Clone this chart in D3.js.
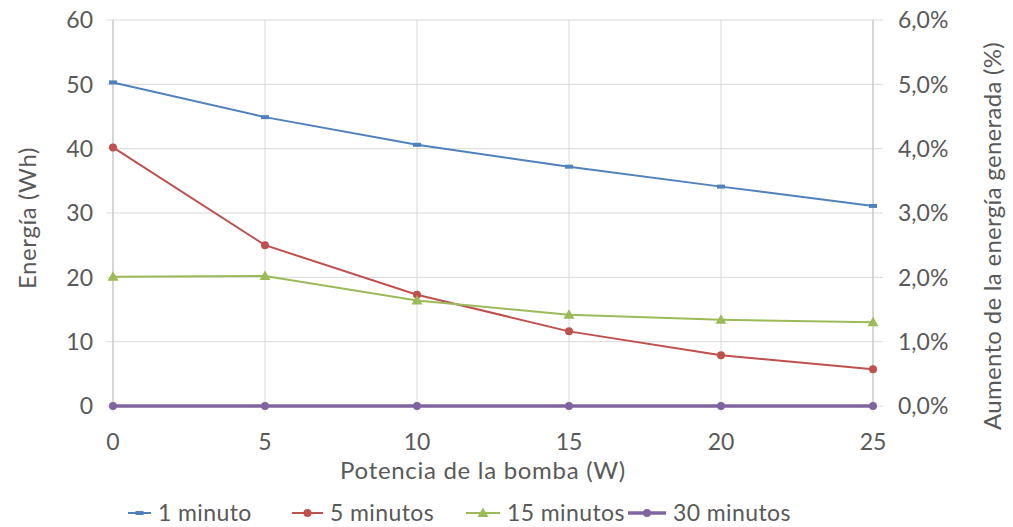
<!DOCTYPE html>
<html><head><meta charset="utf-8">
<script src="https://cdn.jsdelivr.net/npm/d3@7"></script>
<style>body{margin:0;background:#fff}svg{display:block}text{font-family:Lato,"Open Sans",sans-serif;fill:#595959}</style>
</head><body><svg id="c" width="1013" height="527"></svg>
<script>
const potencias = [0, 5, 10, 15, 20, 25];
const serie1min = [50.3, 44.9, 40.6, 37.2, 34.1, 31.1];
const serie5min = [40.2, 25.0, 17.3, 11.6, 7.9, 5.7];
const serie15min = [20.1, 20.2, 16.4, 14.2, 13.4, 13.0];
const serie30min = [0, 0, 0, 0, 0, 0];
const yTicks = [0, 10, 20, 30, 40, 50, 60];
const y2Ticks = ["0,0%", "1,0%", "2,0%", "3,0%", "4,0%", "5,0%", "6,0%"];
const seriesNames = ["1 minuto", "5 minutos", "15 minutos", "30 minutos"];

const svg = d3.select("#c");
const x = d3.scaleLinear().domain([0, 25]).range([113, 873]);
const y = d3.scaleLinear().domain([0, 60]).range([406, 20]);
const y2 = d3.scaleLinear().domain([0, 6]).range([406, 20]);

const series = [
  {name: seriesNames[0], vals: serie1min, color: "#4F81BD", marker: "dash", w: 2},
  {name: seriesNames[1], vals: serie5min, color: "#C0504D", marker: "circle", w: 2},
  {name: seriesNames[2], vals: serie15min, color: "#9BBB59", marker: "tri", w: 2},
  {name: seriesNames[3], vals: serie30min, color: "#8064A2", marker: "circle", w: 3.5}
];

const g = svg.append("g");
g.selectAll(".hg").data(yTicks).enter().append("line")
  .attr("x1", 107).attr("x2", 883).attr("y1", d => y(d)).attr("y2", d => y(d))
  .attr("stroke", "#d9d9d9").attr("stroke-width", 1);
g.selectAll(".vg").data(potencias).enter().append("line")
  .attr("x1", d => x(d)).attr("x2", d => x(d)).attr("y1", 20).attr("y2", 412)
  .attr("stroke", "#d9d9d9").attr("stroke-width", 1);
g.append("line").attr("x1", 113).attr("x2", 113).attr("y1", 20).attr("y2", 406).attr("stroke", "#bfbfbf");
g.append("line").attr("x1", 873).attr("x2", 873).attr("y1", 20).attr("y2", 406).attr("stroke", "#bfbfbf");

svg.selectAll(".yl").data(yTicks).enter().append("text")
  .attr("x", 93).attr("y", d => y(d)).attr("dy", "0.36em").attr("text-anchor", "end")
  .attr("font-size", 23).text(d => d);
svg.selectAll(".y2l").data(y2Ticks).enter().append("text")
  .attr("x", 898).attr("y", (d, i) => y2(i)).attr("dy", "0.36em").attr("text-anchor", "start")
  .attr("font-size", 23).text(d => d);
svg.selectAll(".xl").data(potencias).enter().append("text")
  .attr("x", d => x(d)).attr("y", 442).attr("dy", "0.36em").attr("text-anchor", "middle")
  .attr("font-size", 23).text(d => d);

svg.append("text").attr("transform", "translate(36,218) rotate(-90)").attr("text-anchor", "middle")
  .attr("font-size", 24).attr("letter-spacing", 0.6).text("Energía (Wh)");
svg.append("text").attr("transform", "translate(1001,236) rotate(-90)").attr("text-anchor", "middle")
  .attr("font-size", 24).attr("letter-spacing", 0.3).text("Aumento de la energía generada (%)");
svg.append("text").attr("x", 483).attr("y", 479).attr("text-anchor", "middle")
  .attr("font-size", 24).attr("letter-spacing", 0.7).text("Potencia de la bomba (W)");

function drawMarker(sel, type, color, cx, cy) {
  if (type === "dash") sel.append("rect").attr("x", cx - 4).attr("y", cy - 2).attr("width", 8).attr("height", 4).attr("fill", color);
  else if (type === "circle") sel.append("circle").attr("cx", cx).attr("cy", cy).attr("r", 4).attr("fill", color);
  else if (type === "tri") sel.append("path").attr("d", `M${cx},${cy-5.5}L${cx+5.5},${cy+4}L${cx-5.5},${cy+4}Z`).attr("fill", color);
}

const line = d3.line().x((d, i) => x(potencias[i])).y(d => y(d));
series.forEach(s => {
  const sg = svg.append("g");
  sg.append("path").attr("d", line(s.vals)).attr("fill", "none").attr("stroke", s.color).attr("stroke-width", s.w);
  s.vals.forEach((v, i) => drawMarker(sg, s.marker, s.color, x(potencias[i]), y(v)));
});

const legX = [128, 292, 466, 628];
const legW = [23, 31, 34, 38];
series.forEach((s, i) => {
  const lg = svg.append("g");
  const ly = 513;
  lg.append("line").attr("x1", legX[i]).attr("x2", legX[i] + legW[i]).attr("y1", ly).attr("y2", ly)
    .attr("stroke", s.color).attr("stroke-width", s.w);
  drawMarker(lg, s.marker, s.color, legX[i] + legW[i] / 2, ly);
  lg.append("text").attr("x", legX[i] + legW[i] + 7).attr("y", ly).attr("dy", "0.36em")
    .attr("font-size", 23).attr("letter-spacing", 0.4).text(s.name);
});
</script></body></html>
